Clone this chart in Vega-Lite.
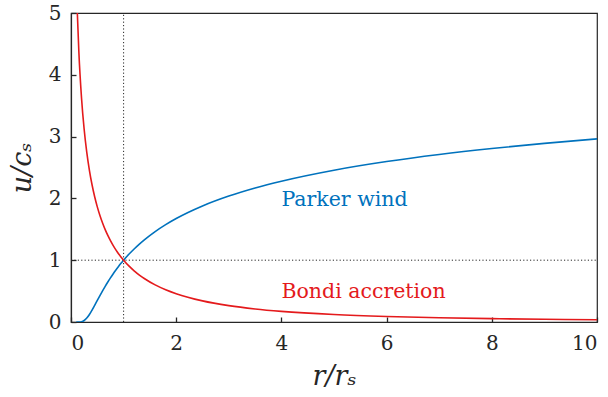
{
  "$schema": "https://vega.github.io/schema/vega-lite/v6.json",
  "width": 526,
  "height": 309,
  "autosize": {"type": "none"},
  "padding": {"left": 71, "top": 13, "right": 11, "bottom": 75},
  "background": "white",
  "config": {
    "view": {"stroke": "#262626", "strokeWidth": 1.2},
    "font": "DejaVu Serif, serif",
    "axis": {
      "grid": false,
      "domainColor": "#262626",
      "domainWidth": 1.2,
      "tickColor": "#262626",
      "tickSize": -5,
      "tickWidth": 1.3,
      "labelFont": "DejaVu Serif, serif",
      "labelFontSize": 20,
      "labelColor": "#262626",
      "titleFont": "DejaVu Serif, serif",
      "titleFontSize": 27,
      "titleFontWeight": "normal",
      "titleFontStyle": "italic",
      "titleColor": "#262626"
    }
  },
  "layer": [
    {
      "data": {"values": [
        {"x": 1, "x2": 1, "y": 0, "y2": 5},
        {"x": 0, "x2": 10, "y": 1, "y2": 1}
      ]},
      "mark": {"type": "rule", "color": "#262626", "strokeWidth": 1, "strokeDash": [1.2, 2.2]},
      "encoding": {
        "x": {"field": "x", "type": "quantitative"},
        "x2": {"field": "x2"},
        "y": {"field": "y", "type": "quantitative"},
        "y2": {"field": "y2"}
      }
    },
    {
      "data": {"values": [
        {"series": "Parker wind", "x": 0.1, "u": 0},
        {"series": "Parker wind", "x": 0.12, "u": 0.00002},
        {"series": "Parker wind", "x": 0.15, "u": 0.0003},
        {"series": "Parker wind", "x": 0.2, "u": 0.0051},
        {"series": "Parker wind", "x": 0.25, "u": 0.0241},
        {"series": "Parker wind", "x": 0.3, "u": 0.0635},
        {"series": "Parker wind", "x": 0.35, "u": 0.1216},
        {"series": "Parker wind", "x": 0.4, "u": 0.1923},
        {"series": "Parker wind", "x": 0.45, "u": 0.2695},
        {"series": "Parker wind", "x": 0.5, "u": 0.349},
        {"series": "Parker wind", "x": 0.55, "u": 0.4278},
        {"series": "Parker wind", "x": 0.6, "u": 0.5043},
        {"series": "Parker wind", "x": 0.65, "u": 0.5779},
        {"series": "Parker wind", "x": 0.7, "u": 0.648},
        {"series": "Parker wind", "x": 0.75, "u": 0.7147},
        {"series": "Parker wind", "x": 0.8, "u": 0.7779},
        {"series": "Parker wind", "x": 0.85, "u": 0.8379},
        {"series": "Parker wind", "x": 0.9, "u": 0.8948},
        {"series": "Parker wind", "x": 0.95, "u": 0.949},
        {"series": "Parker wind", "x": 1.0, "u": 1.0},
        {"series": "Parker wind", "x": 1.1, "u": 1.0954},
        {"series": "Parker wind", "x": 1.2, "u": 1.1818},
        {"series": "Parker wind", "x": 1.3, "u": 1.2611},
        {"series": "Parker wind", "x": 1.4, "u": 1.3338},
        {"series": "Parker wind", "x": 1.6, "u": 1.4634},
        {"series": "Parker wind", "x": 1.8, "u": 1.5757},
        {"series": "Parker wind", "x": 2.0, "u": 1.6744},
        {"series": "Parker wind", "x": 2.5, "u": 1.8775},
        {"series": "Parker wind", "x": 3, "u": 2.0375},
        {"series": "Parker wind", "x": 3.5, "u": 2.1684},
        {"series": "Parker wind", "x": 4, "u": 2.2787},
        {"series": "Parker wind", "x": 5, "u": 2.4567},
        {"series": "Parker wind", "x": 6, "u": 2.5966},
        {"series": "Parker wind", "x": 7, "u": 2.7111},
        {"series": "Parker wind", "x": 8, "u": 2.8076},
        {"series": "Parker wind", "x": 9, "u": 2.8907},
        {"series": "Parker wind", "x": 10, "u": 2.9636},
        {"series": "Bondi accretion", "x": 0.1, "u": 5.5885},
        {"series": "Bondi accretion", "x": 0.12, "u": 5.0074},
        {"series": "Bondi accretion", "x": 0.15, "u": 4.3616},
        {"series": "Bondi accretion", "x": 0.2, "u": 3.6246},
        {"series": "Bondi accretion", "x": 0.25, "u": 3.1193},
        {"series": "Bondi accretion", "x": 0.3, "u": 2.7454},
        {"series": "Bondi accretion", "x": 0.35, "u": 2.4546},
        {"series": "Bondi accretion", "x": 0.4, "u": 2.2204},
        {"series": "Bondi accretion", "x": 0.45, "u": 2.0268},
        {"series": "Bondi accretion", "x": 0.5, "u": 1.8634},
        {"series": "Bondi accretion", "x": 0.55, "u": 1.7234},
        {"series": "Bondi accretion", "x": 0.6, "u": 1.6018},
        {"series": "Bondi accretion", "x": 0.65, "u": 1.495},
        {"series": "Bondi accretion", "x": 0.7, "u": 1.4004},
        {"series": "Bondi accretion", "x": 0.75, "u": 1.3159},
        {"series": "Bondi accretion", "x": 0.8, "u": 1.24},
        {"series": "Bondi accretion", "x": 0.85, "u": 1.1714},
        {"series": "Bondi accretion", "x": 0.9, "u": 1.1091},
        {"series": "Bondi accretion", "x": 0.95, "u": 1.052},
        {"series": "Bondi accretion", "x": 1.0, "u": 1.0},
        {"series": "Bondi accretion", "x": 1.1, "u": 0.9076},
        {"series": "Bondi accretion", "x": 1.2, "u": 0.8286},
        {"series": "Bondi accretion", "x": 1.3, "u": 0.7601},
        {"series": "Bondi accretion", "x": 1.4, "u": 0.7002},
        {"series": "Bondi accretion", "x": 1.6, "u": 0.6008},
        {"series": "Bondi accretion", "x": 1.8, "u": 0.5218},
        {"series": "Bondi accretion", "x": 2.0, "u": 0.4577},
        {"series": "Bondi accretion", "x": 2.5, "u": 0.3415},
        {"series": "Bondi accretion", "x": 3, "u": 0.2648},
        {"series": "Bondi accretion", "x": 3.5, "u": 0.2113},
        {"series": "Bondi accretion", "x": 4, "u": 0.1724},
        {"series": "Bondi accretion", "x": 5, "u": 0.1211},
        {"series": "Bondi accretion", "x": 6, "u": 0.0896},
        {"series": "Bondi accretion", "x": 7, "u": 0.0689},
        {"series": "Bondi accretion", "x": 8, "u": 0.0546},
        {"series": "Bondi accretion", "x": 9, "u": 0.0444},
        {"series": "Bondi accretion", "x": 10, "u": 0.0367}
      ]},
      "mark": {"type": "line", "strokeWidth": 1.6, "interpolate": "monotone", "clip": true},
      "encoding": {
        "x": {"field": "x", "type": "quantitative"},
        "y": {"field": "u", "type": "quantitative"},
        "detail": {"field": "series"},
        "color": {"field": "series", "type": "nominal", "legend": null}
      }
    },
    {
      "data": {"values": [
        {"label": "Parker wind", "x": 4.0, "y": 1.97},
        {"label": "Bondi accretion", "x": 4.0, "y": 0.49}
      ]},
      "mark": {"type": "text", "align": "left", "baseline": "middle", "fontSize": 20.5, "font": "DejaVu Serif, serif"},
      "encoding": {
        "x": {"field": "x", "type": "quantitative"},
        "y": {"field": "y", "type": "quantitative"},
        "text": {"field": "label"},
        "color": {"field": "label", "type": "nominal", "legend": null}
      }
    }
  ],
  "resolve": {"scale": {"color": "shared"}},
  "encoding": {
    "x": {"scale": {"domain": [0, 10], "nice": false}, "axis": {"values": [0, 2, 4, 6, 8, 10], "title": "r/rₛ", "labelPadding": 16, "titlePadding": 10}},
    "y": {"scale": {"domain": [0, 5], "nice": false}, "axis": {"values": [0, 1, 2, 3, 4, 5], "title": "u/cₛ", "labelPadding": 15, "titlePadding": 12}},
    "color": {"scale": {"domain": ["Parker wind", "Bondi accretion"], "range": ["#0072BD", "#E41A1C"]}}
  }
}
